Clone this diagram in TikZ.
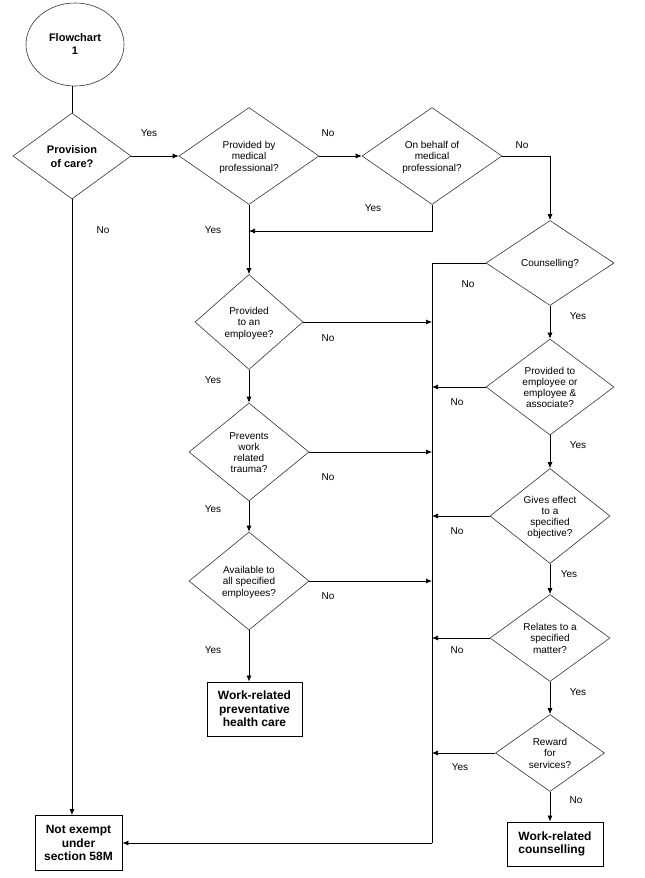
\documentclass[tikz,border=0pt]{standalone}
\usepackage{fontspec}
\setmainfont{Liberation Sans}
\usetikzlibrary{shapes.geometric,arrows.meta}
\newcommand\dtxt[1]{\makebox[0pt]{\raisebox{-.5\height}[0pt][0pt]{\begin{tabular}[b]{@{}c@{}}#1\end{tabular}}}}
\tikzset{
  dia/.style={diamond,draw=black!80,line width=0.6pt,inner sep=0pt,font=\fontsize{10}{11.2}\selectfont},
  diab/.style={diamond,draw=black!80,line width=0.6pt,inner sep=0pt,font=\bfseries\fontsize{11}{14}\selectfont},
  endbox/.style={rectangle,draw=black,line width=0.8pt,inner sep=0pt,align=center,font=\bfseries\fontsize{12}{13.7}\selectfont},
  arr/.style={line width=0.75pt,-{Latex[length=6pt,width=5pt]}},
  ln/.style={line width=0.75pt},
  lbl/.style={inner sep=0pt,font=\fontsize{10}{12}\selectfont}
}
\begin{document}
\begin{tikzpicture}[x=1pt,y=-1pt]
\useasboundingbox (0,0) rectangle (645,878);
% nodes
\node[ellipse,draw=black!80,line width=0.6pt,minimum width=98,minimum height=83,inner sep=0pt,align=center,font=\bfseries\fontsize{11}{13}\selectfont] (start) at (75,44.5) {Flowchart\\1};
\node[diab,minimum width=118,minimum height=86] (prov) at (72,156) {\dtxt{Provision\\of care?}};
\node[dia,minimum width=140,minimum height=97] (med) at (249,156) {\dtxt{Provided by\\medical\\professional?}};
\node[dia,minimum width=140,minimum height=97] (behalf) at (432,156) {\dtxt{On behalf of\\medical\\professional?}};
\node[dia,minimum width=128,minimum height=85] (couns) at (550,263) {\dtxt{Counselling?}};
\node[dia,minimum width=108,minimum height=95] (emp) at (249,322) {\dtxt{Provided\\to an\\employee?}};
\node[dia,minimum width=120,minimum height=98] (prev) at (249,452) {\dtxt{Prevents\\work\\related\\trauma?}};
\node[dia,minimum width=120,minimum height=98] (avail) at (249,581) {\dtxt{Available to\\all specified\\employees?}};
\node[dia,minimum width=128,minimum height=96] (assoc) at (550,387) {\dtxt{Provided to\\employee or\\employee \&\\associate?}};
\node[dia,minimum width=120,minimum height=95] (obj) at (550,516) {\dtxt{Gives effect\\to a\\specified\\objective?}};
\node[dia,minimum width=120,minimum height=87] (matter) at (550,638) {\dtxt{Relates to a\\specified\\matter?}};
\node[dia,minimum width=109,minimum height=77] (reward) at (550,753) {\dtxt{Reward\\for\\services?}};
\node[endbox,minimum width=95,minimum height=54] (prevbox) at (254.5,709) {Work-related\\preventative\\health care};
\node[endbox,minimum width=96,minimum height=44,align=left] (counsbox) at (555,844) {Work-related\\counselling};
\node[endbox,minimum width=87,minimum height=55] (notex) at (78.5,843) {Not exempt\\under\\section 58M};
\coordinate (j1) at (249,231);
\coordinate (tt) at (432,263);
\coordinate (tb) at (432,843);
% connectors
\draw[ln] (start.south -| prov.north) -- (prov.north);
\draw[arr] (prov.east) -- (med.west);
\draw[arr] (med.east) -- (behalf.west);
\draw[arr] (behalf.east) -| (couns.north);
\draw[arr] (behalf.south) |- (j1);
\draw[arr] (med.south) -- (emp.north);
\draw[arr] (emp.south) -- (prev.north);
\draw[arr] (prev.south) -- (avail.north);
\draw[arr] (avail.south) -- (avail.south |- prevbox.north);
\draw[arr] (prov.south) -- (prov.south |- notex.north);
\draw[ln] (couns.west) -- (tt) -- (tb);
\draw[arr] (tb) -- (notex.east);
\draw[arr] (emp.east) -- (emp.east -| tt);
\draw[arr] (prev.east) -- (prev.east -| tt);
\draw[arr] (avail.east) -- (avail.east -| tt);
\draw[arr] (assoc.west) -- (assoc.west -| tt);
\draw[arr] (obj.west) -- (obj.west -| tt);
\draw[arr] (matter.west) -- (matter.west -| tt);
\draw[arr] (reward.west) -- (reward.west -| tt);
\draw[arr] (couns.south) -- (assoc.north);
\draw[arr] (assoc.south) -- (obj.north);
\draw[arr] (obj.south) -- (matter.north);
\draw[arr] (matter.south) -- (reward.north);
\draw[arr] (reward.south) -- (reward.south |- counsbox.north);
% labels
\node[lbl] (l1) at (149,133) {Yes};
\node[lbl] (l2) at (328,133) {No};
\node[lbl] (l3) at (522,145) {No};
\node[lbl] (l4) at (373,208) {Yes};
\node[lbl] (l5) at (213,230) {Yes};
\node[lbl] (l6) at (103,230) {No};
\node[lbl] (l7) at (468,284) {No};
\node[lbl] (l8) at (578,316) {Yes};
\node[lbl] (l9) at (328,338) {No};
\node[lbl] (l10) at (213,380) {Yes};
\node[lbl] (l11) at (457,402) {No};
\node[lbl] (l12) at (578,445) {Yes};
\node[lbl] (l13) at (328,477) {No};
\node[lbl] (l14) at (213,509) {Yes};
\node[lbl] (l15) at (457,531) {No};
\node[lbl] (l16) at (569,574) {Yes};
\node[lbl] (l17) at (328,596) {No};
\node[lbl] (l18) at (213,650) {Yes};
\node[lbl] (l19) at (457,650) {No};
\node[lbl] (l20) at (578,692) {Yes};
\node[lbl] (l21) at (460,767) {Yes};
\node[lbl] (l22) at (576,800) {No};
\end{tikzpicture}
\end{document}
